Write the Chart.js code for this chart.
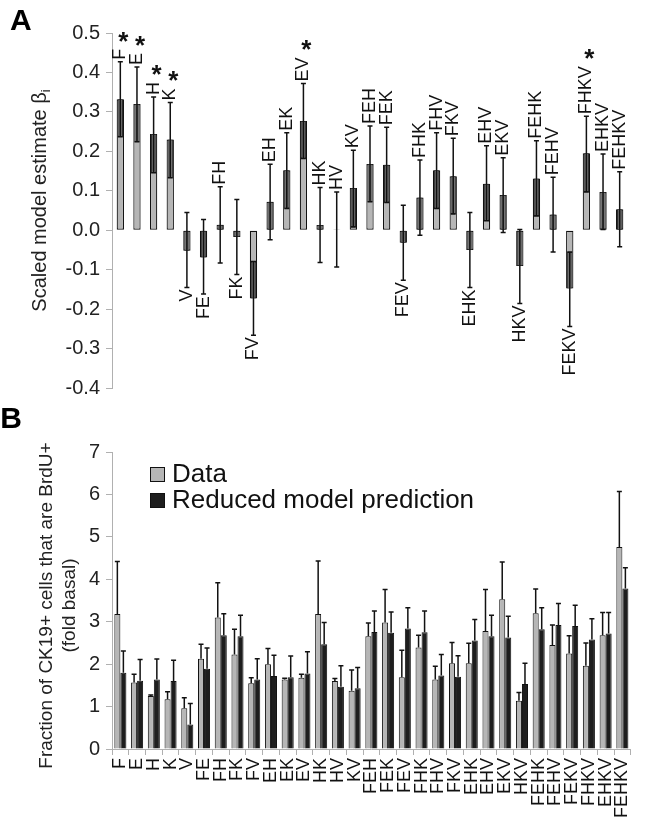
<!DOCTYPE html>
<html>
<head>
<meta charset="utf-8">
<script src="https://cdn.jsdelivr.net/npm/chart.js@4.4.1/dist/chart.umd.min.js"></script>
<style>
  body { margin: 0; background: #fff; }
  .panel { position: absolute; left: 0; width: 647px; }
</style>
</head>
<body>
<div class="panel" style="top:0;height:406px"><canvas id="chartA"></canvas></div>
<div class="panel" style="top:400px;height:422px"><canvas id="chartB"></canvas></div>
<script>
'use strict';

const FONT = '"Liberation Sans", Arial, sans-serif';

// combinations (same order in both panels)
const combos = ['F','E','H','K','V','FE','FH','FK','FV','EH','EK','EV','HK','HV','KV',
  'FEH','FEK','FEV','FHK','FHV','FKV','EHK','EHV','EKV','HKV',
  'FEHK','FEHV','FEKV','FHKV','EHKV','FEHKV'];

// PANEL A - model estimates, whisker ends
const beta = [0.332, 0.320, 0.244, 0.230, -0.052, -0.069, 0.014, -0.017, -0.173, 0.072, 0.152, 0.277, 0.013, 0.002, 0.107,
  0.168, 0.166, -0.032, 0.083, 0.152, 0.137, -0.050, 0.118, 0.089, -0.091,
  0.131, 0.040, -0.148, 0.195, 0.097, 0.053];
const betaLow = [0.237, 0.224, 0.146, 0.133, -0.145, -0.162, -0.083, -0.112, -0.266, -0.024, 0.055, 0.182, -0.082, -0.093, 0.008,
  0.072, 0.070, -0.127, -0.013, 0.055, 0.041, -0.145, 0.024, -0.006, -0.186,
  0.036, -0.055, -0.244, 0.097, 0.002, -0.042];
const betaHigh = [0.427, 0.414, 0.338, 0.324, 0.045, 0.027, 0.110, 0.078, -0.079, 0.167, 0.247, 0.372, 0.108, 0.097, 0.203,
  0.264, 0.261, 0.063, 0.178, 0.247, 0.233, 0.045, 0.214, 0.184, 0.002,
  0.227, 0.134, -0.055, 0.289, 0.193, 0.148];
const significant = ['F', 'E', 'H', 'K', 'EV', 'FHKV'];
const ticksA = [0.5, 0.4, 0.3, 0.2, 0.1, 0.0, -0.1, -0.2, -0.3, -0.4];

// PANEL B - data vs reduced model, top of error bars
const dataVals = [3.18, 1.57, 1.25, 1.17, 0.96, 2.13, 3.10, 2.23, 1.55, 2.00, 1.64, 1.68, 3.18, 1.60, 1.37,
  2.66, 2.98, 1.69, 2.39, 1.64, 2.02, 2.02, 2.78, 3.53, 1.14,
  3.20, 2.45, 2.25, 1.96, 2.68, 4.76];
const dataHigh = [4.42, 1.76, 1.27, 1.35, 1.21, 2.47, 3.92, 2.82, 1.68, 2.37, 1.67, 1.76, 4.43, 1.66, 1.86,
  2.97, 3.76, 2.33, 2.68, 1.95, 2.51, 2.49, 3.76, 4.41, 1.33,
  3.77, 2.92, 2.67, 2.50, 3.22, 6.07];
const modelVals = [1.80, 1.61, 1.64, 1.60, 0.58, 1.89, 2.68, 2.66, 1.64, 1.72, 1.69, 1.78, 2.47, 1.47, 1.43,
  2.76, 2.74, 2.84, 2.75, 1.73, 1.70, 2.56, 2.66, 2.63, 1.53,
  2.82, 2.92, 2.90, 2.58, 2.72, 3.78];
const modelHigh = [2.31, 2.11, 2.12, 2.09, 1.07, 2.38, 3.19, 3.15, 2.13, 2.21, 2.19, 2.29, 2.98, 1.96, 1.92,
  3.25, 3.23, 3.33, 3.25, 2.23, 2.20, 3.05, 3.15, 3.13, 2.02,
  3.33, 3.43, 3.39, 3.07, 3.22, 4.27];

const LIGHT = '#b6b6b6';
const AXIS = '#b0b0b0';

Chart.defaults.animation = false;
Chart.defaults.devicePixelRatio = 1;
Chart.defaults.plugins.tooltip.enabled = false;
Chart.defaults.plugins.legend.display = false;

function panelLetter(ctx, letter, x, y) {
  ctx.save();
  ctx.font = 'bold 30px ' + FONT;
  ctx.fillStyle = '#000';
  ctx.textBaseline = 'alphabetic';
  ctx.fillText(letter, x, y);
  ctx.restore();
}

// whiskers, rotated labels, stars, axis title
const panelAExtras = {
  id: 'panelAExtras',
  afterDatasetsDraw(chart) {
    const { ctx, scales: { x, y } } = chart;
    ctx.save();
    ctx.strokeStyle = '#111';
    ctx.lineWidth = 1.5;
    combos.forEach((c, i) => {
      const px = x.getPixelForValue(i);
      const yl = y.getPixelForValue(betaLow[i]);
      const yh = y.getPixelForValue(betaHigh[i]);
      ctx.beginPath();
      ctx.moveTo(px, yl); ctx.lineTo(px, yh);
      ctx.moveTo(px - 2.5, yl); ctx.lineTo(px + 2.5, yl);
      ctx.moveTo(px - 2.5, yh); ctx.lineTo(px + 2.5, yh);
      ctx.stroke();
    });

    ctx.fillStyle = '#111';
    ctx.textBaseline = 'middle';
    combos.forEach((c, i) => {
      const px = x.getPixelForValue(i);
      ctx.font = '18px ' + FONT;
      const w = ctx.measureText(c).width;
      ctx.save();
      if (beta[i] >= 0) {
        ctx.translate(px, y.getPixelForValue(betaHigh[i]) - 2);
        ctx.rotate(-Math.PI / 2);
        ctx.textAlign = 'left';
      } else {
        ctx.translate(px, y.getPixelForValue(betaLow[i]) + 2);
        ctx.rotate(-Math.PI / 2);
        ctx.textAlign = 'right';
      }
      ctx.fillText(c, 0, 0);
      ctx.restore();
      if (significant.includes(c)) {
        const top = y.getPixelForValue(betaHigh[i]) - 2 - w;
        ctx.save();
        ctx.font = 'bold 26px ' + FONT;
        ctx.textAlign = 'center';
        ctx.textBaseline = 'alphabetic';
        ctx.fillText('*', px + 3, top + 1);
        ctx.restore();
      }
    });

    // y title with subscript
    ctx.save();
    ctx.translate(40, (chart.chartArea.top + chart.chartArea.bottom) / 2 - 10);
    ctx.rotate(-Math.PI / 2);
    ctx.font = '20px ' + FONT;
    const main = 'Scaled model estimate \u03b2';
    const wMain = ctx.measureText(main).width;
    ctx.font = '13px ' + FONT;
    const wSub = ctx.measureText('i').width;
    const start = -(wMain + wSub) / 2;
    ctx.textAlign = 'left';
    ctx.textBaseline = 'middle';
    ctx.fillStyle = '#222';
    ctx.font = '20px ' + FONT;
    ctx.fillText(main, start, 0);
    ctx.font = '13px ' + FONT;
    ctx.fillText('i', start + wMain, 6);
    ctx.restore();

    panelLetter(ctx, 'A', 10, 30);
    ctx.restore();
  }
};

new Chart(document.getElementById('chartA'), {
  type: 'bar',
  data: {
    labels: combos,
    datasets: [
      {
        data: beta.map(b => [0, b]),
        backgroundColor: LIGHT,
        borderColor: '#111',
        borderWidth: 1.2,
        borderSkipped: false,
        barPercentage: 0.44,
        categoryPercentage: 1,
        grouped: false,
        order: 2
      },
      {
        // darker inner box: part of the interval that lies inside the bar
        data: beta.map((b, i) => b >= 0 ? [Math.max(betaLow[i], 0), b] : [b, Math.min(betaHigh[i], 0)]),
        backgroundColor: '#6c6c6c',
        borderColor: '#2a2a2a',
        borderWidth: 1,
        borderSkipped: false,
        barPercentage: 0.32,
        categoryPercentage: 1,
        grouped: false,
        order: 1
      }
    ]
  },
  options: {
    responsive: true,
    maintainAspectRatio: false,
    layout: { padding: { top: 33, bottom: 6, left: 0, right: 19 } },
    scales: {
      x: { display: false },
      y: {
        min: -0.4,
        max: 0.5,
        afterBuildTicks: s => { s.ticks = ticksA.map(v => ({ value: v })); },
        afterFit: s => { s.width = 112; },
        ticks: {
          font: { family: FONT, size: 20 },
          color: '#222',
          padding: 6,
          callback: v => (Math.abs(v) < 1e-9 ? 0 : v).toFixed(1)
        },
        grid: { drawOnChartArea: false, drawTicks: true, tickLength: 6, color: AXIS },
        border: { display: true, color: AXIS, width: 1 }
      }
    }
  },
  plugins: [panelAExtras]
});

// error bars, legend, axis title
const panelBExtras = {
  id: 'panelBExtras',
  afterDatasetsDraw(chart) {
    const { ctx, scales: { y } } = chart;
    const highs = [dataHigh, modelHigh];
    ctx.save();
    ctx.strokeStyle = '#111';
    ctx.lineWidth = 1.5;
    highs.forEach((hi, d) => {
      chart.getDatasetMeta(d).data.forEach((bar, i) => {
        const yt = y.getPixelForValue(hi[i]);
        ctx.beginPath();
        ctx.moveTo(bar.x, bar.y); ctx.lineTo(bar.x, yt);
        ctx.moveTo(bar.x - 2.5, yt); ctx.lineTo(bar.x + 2.5, yt);
        ctx.stroke();
      });
    });

    // legend
    ctx.font = '26px ' + FONT;
    ctx.textBaseline = 'middle';
    ctx.textAlign = 'left';
    chart.data.datasets.forEach((ds, d) => {
      const sy = 67 + d * 26;
      ctx.fillStyle = ds.backgroundColor;
      ctx.fillRect(150, sy, 15, 15);
      ctx.lineWidth = 1;
      ctx.strokeStyle = '#111';
      ctx.strokeRect(150.5, sy + 0.5, 14, 14);
      ctx.fillStyle = '#111';
      ctx.fillText(ds.label, 172, sy + 8);
    });

    // y title, two lines
    const cy = (chart.chartArea.top + chart.chartArea.bottom) / 2 + 5;
    ctx.fillStyle = '#222';
    ctx.font = '19px ' + FONT;
    ctx.textAlign = 'center';
    [['Fraction of CK19+ cells that are BrdU+', 47], ['(fold basal)', 70]].forEach(([t, x]) => {
      ctx.save();
      ctx.translate(x, cy);
      ctx.rotate(-Math.PI / 2);
      ctx.fillText(t, 0, 0);
      ctx.restore();
    });

    panelLetter(ctx, 'B', 11, 28);
    ctx.restore();
  }
};

new Chart(document.getElementById('chartB'), {
  type: 'bar',
  data: {
    labels: combos,
    datasets: [
      {
        label: 'Data',
        data: dataVals,
        backgroundColor: LIGHT,
        borderColor: '#111',
        borderWidth: 1,
        barPercentage: 1,
        categoryPercentage: 0.72
      },
      {
        label: 'Reduced model prediction',
        data: modelVals,
        backgroundColor: '#1e1e1e',
        borderColor: '#111',
        borderWidth: 1,
        barPercentage: 1,
        categoryPercentage: 0.72
      }
    ]
  },
  options: {
    responsive: true,
    maintainAspectRatio: false,
    layout: { padding: { top: 52, bottom: 0, left: 0, right: 2 } },
    scales: {
      x: {
        afterFit: s => { s.height = 73; },
        ticks: {
          autoSkip: false,
          minRotation: 90,
          maxRotation: 90,
          padding: 3,
          font: { family: FONT, size: 18 },
          color: '#111'
        },
        grid: { offset: true, drawOnChartArea: false, drawTicks: true, tickLength: 6, color: AXIS },
        border: { display: true, color: AXIS }
      },
      y: {
        min: 0,
        max: 7,
        afterFit: s => { s.width = 112; },
        ticks: {
          stepSize: 1,
          font: { family: FONT, size: 20 },
          color: '#222',
          padding: 6
        },
        grid: { drawOnChartArea: false, drawTicks: true, tickLength: 6, color: AXIS },
        border: { display: true, color: AXIS }
      }
    }
  },
  plugins: [panelBExtras]
});
</script>
</body>
</html>
